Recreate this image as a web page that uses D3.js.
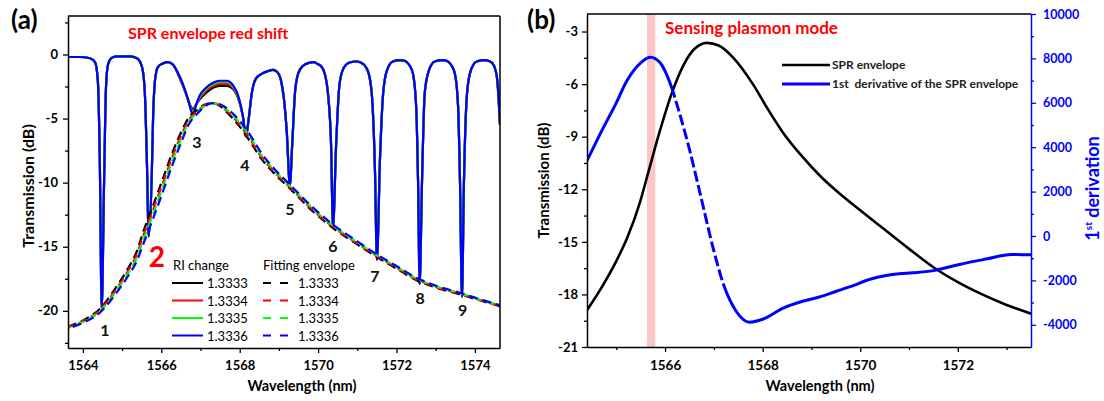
<!DOCTYPE html>
<html>
<head>
<meta charset="utf-8">
<script src="https://cdn.jsdelivr.net/npm/d3@7"></script>
<style>
  body { margin: 0; background: #fff; }
  svg { display: block; }
  text { font-family: Lato, 'Open Sans', sans-serif; }
</style>
</head>
<body>
<svg id="chart" width="1104" height="401"></svg>
<script>
// ---------- data : panel (a) ----------
const riLabels = ['1.3333', '1.3334', '1.3335', '1.3336'];
const seriesColors = ['#000000', '#ff0000', '#00ff00', '#0000ff'];

const transWl = [1563.62,1563.92,1564.18,1564.31,1564.38,1564.43,1564.48,1564.54,1564.59,1564.64,
  1564.74,1564.89,1565.2,1565.38,1565.51,1565.58,1565.63,1565.68,1565.76,1565.79,
  1565.84,1565.91,1566.04,1566.17,1566.3,1566.42,1566.55,1566.68,1566.76,1566.81,
  1566.88,1566.98,1567.14,1567.32,1567.49,1567.67,1567.83,1567.98,1568.08,1568.16,
  1568.23,1568.31,1568.41,1568.57,1568.72,1568.85,1568.95,1569.05,1569.13,1569.2,
  1569.28,1569.34,1569.41,1569.49,1569.61,1569.77,1569.89,1569.99,1570.07,1570.17,
  1570.25,1570.33,1570.38,1570.46,1570.54,1570.63,1570.79,1570.97,1571.1,1571.2,
  1571.3,1571.38,1571.45,1571.5,1571.58,1571.66,1571.76,1571.91,1572.09,1572.21,
  1572.32,1572.42,1572.5,1572.55,1572.59,1572.65,1572.72,1572.83,1572.98,1573.16,
  1573.28,1573.39,1573.49,1573.57,1573.62,1573.67,1573.72,1573.8,1573.9,1574.05,
  1574.23,1574.39,1574.49,1574.57,1574.64];

const trans3333 = [-0.2,-0.2,-0.3,-0.6,-2.0,-8,-19.8,-10,-2.5,-0.8,
  -0.25,-0.15,-0.15,-0.3,-1.0,-3,-8,-14.2,-9,-5,
  -2,-1.0,-0.7,-0.6,-0.8,-1.5,-2.45,-3.5,-4.1,-4.3,
  -3.95,-3.5,-3.0,-2.6,-2.45,-2.45,-2.7,-3.6,-4.8,-6.4,
  -5.0,-3,-1.9,-1.5,-1.3,-1.2,-1.35,-2,-3.5,-6,
  -10.2,-7,-3,-1.5,-0.9,-0.65,-0.6,-0.75,-0.9,-1.5,
  -3,-7,-13.5,-7,-2.5,-1.2,-0.65,-0.55,-0.65,-0.9,
  -1.6,-3.5,-9,-16,-8,-3,-1.2,-0.55,-0.45,-0.5,
  -0.8,-1.5,-4,-10,-17.9,-10,-3,-1.2,-0.55,-0.45,
  -0.5,-0.8,-1.5,-4,-10,-18.9,-10,-3,-1.2,-0.55,
  -0.45,-0.55,-0.9,-2,-5.5];
const trans3334 = [-0.2,-0.2,-0.3,-0.6,-2.0,-8,-19.8,-10,-2.5,-0.8,
  -0.25,-0.15,-0.15,-0.3,-1.0,-3,-8,-14.2,-9,-5,
  -2,-1.0,-0.7,-0.6,-0.8,-1.45,-2.4,-3.5,-4.2,-4.45,
  -3.95,-3.4,-2.85,-2.45,-2.3,-2.3,-2.6,-3.5,-4.8,-6.4,
  -5.0,-3,-1.9,-1.5,-1.3,-1.2,-1.35,-2,-3.5,-6,
  -10.2,-7,-3,-1.5,-0.9,-0.65,-0.6,-0.75,-0.9,-1.5,
  -3,-7,-13.5,-7,-2.5,-1.2,-0.65,-0.55,-0.65,-0.9,
  -1.6,-3.5,-9,-16,-8,-3,-1.2,-0.55,-0.45,-0.5,
  -0.8,-1.5,-4,-10,-17.9,-10,-3,-1.2,-0.55,-0.45,
  -0.5,-0.8,-1.5,-4,-10,-18.9,-10,-3,-1.2,-0.55,
  -0.45,-0.55,-0.9,-2,-5.5];
const trans3335 = [-0.2,-0.2,-0.3,-0.6,-2.0,-8,-19.8,-10,-2.5,-0.8,
  -0.25,-0.15,-0.15,-0.3,-1.0,-3,-8,-14.2,-9,-5,
  -2,-1.0,-0.7,-0.6,-0.8,-1.4,-2.35,-3.5,-4.3,-4.6,
  -4.0,-3.3,-2.7,-2.3,-2.15,-2.15,-2.5,-3.45,-4.8,-6.4,
  -5.0,-3,-1.9,-1.5,-1.3,-1.2,-1.35,-2,-3.5,-6,
  -10.2,-7,-3,-1.5,-0.9,-0.65,-0.6,-0.75,-0.9,-1.5,
  -3,-7,-13.5,-7,-2.5,-1.2,-0.65,-0.55,-0.65,-0.9,
  -1.6,-3.5,-9,-16,-8,-3,-1.2,-0.55,-0.45,-0.5,
  -0.8,-1.5,-4,-10,-17.9,-10,-3,-1.2,-0.55,-0.45,
  -0.5,-0.8,-1.5,-4,-10,-18.9,-10,-3,-1.2,-0.55,
  -0.45,-0.55,-0.9,-2,-5.5];
const trans3336 = [-0.2,-0.2,-0.3,-0.6,-2.0,-8,-19.8,-10,-2.5,-0.8,
  -0.25,-0.15,-0.15,-0.3,-1.0,-3,-8,-14.2,-9,-5,
  -2,-1.0,-0.7,-0.6,-0.8,-1.4,-2.3,-3.5,-4.4,-4.75,
  -4.0,-3.2,-2.6,-2.2,-2.05,-2.05,-2.4,-3.4,-4.8,-6.4,
  -5.0,-3,-1.9,-1.5,-1.3,-1.2,-1.35,-2,-3.5,-6,
  -10.2,-7,-3,-1.5,-0.9,-0.65,-0.6,-0.75,-0.9,-1.5,
  -3,-7,-13.5,-7,-2.5,-1.2,-0.65,-0.55,-0.65,-0.9,
  -1.6,-3.5,-9,-16,-8,-3,-1.2,-0.55,-0.45,-0.5,
  -0.8,-1.5,-4,-10,-17.9,-10,-3,-1.2,-0.55,-0.45,
  -0.5,-0.8,-1.5,-4,-10,-18.9,-10,-3,-1.2,-0.55,
  -0.45,-0.55,-0.9,-2,-5.5];

// fitted envelopes (dashed)
const envWl = [1563.62,1564.0,1564.43,1564.87,1565.15,1565.38,1565.53,1565.79,1566.04,1566.3,
  1566.53,1566.7,1566.91,1567.1,1567.3,1567.5,1567.67,1568.0,1568.26,1568.55,
  1568.85,1569.28,1569.87,1570.38,1571.0,1571.5,1572.0,1572.5,1573.0,1573.67,
  1574.2,1574.64];
const env3333 = [-21.23,-20.76,-19.85,-18.06,-16.7,-15.32,-13.92,-11.79,-9.69,-7.52,
  -5.91,-4.93,-4.35,-3.93,-3.8,-4.03,-4.5,-5.63,-6.76,-8.13,
  -9.18,-10.45,-12.25,-13.54,-14.82,-15.8,-16.7,-17.59,-18.18,-18.76,
  -19.25,-19.65];
const env3334 = [-21.28,-20.82,-19.95,-18.22,-16.9,-15.57,-14.24,-12.13,-10.03,-7.84,
  -6.17,-5.11,-4.45,-3.98,-3.8,-3.98,-4.4,-5.48,-6.59,-7.98,
  -9.06,-10.35,-12.15,-13.45,-14.74,-15.73,-16.63,-17.53,-18.13,-18.72,
  -19.22,-19.62];
const env3335 = [-21.33,-20.88,-20.05,-18.38,-17.1,-15.83,-14.56,-12.47,-10.37,-8.16,
  -6.43,-5.29,-4.55,-4.03,-3.8,-3.93,-4.3,-5.33,-6.42,-7.83,
  -8.94,-10.25,-12.05,-13.36,-14.66,-15.67,-16.57,-17.47,-18.08,-18.68,
  -19.19,-19.59];
const env3336 = [-21.38,-20.94,-20.15,-18.54,-17.3,-16.08,-14.88,-12.81,-10.71,-8.48,
  -6.69,-5.47,-4.65,-4.08,-3.8,-3.88,-4.2,-5.18,-6.25,-7.68,
  -8.82,-10.15,-11.95,-13.27,-14.58,-15.6,-16.5,-17.41,-18.03,-18.64,
  -19.16,-19.56];

const dipLabels = ['1', '2', '3', '4', '5', '6', '7', '8', '9'];
const dipLabelWl = [1564.56, 1565.89, 1566.91, 1568.13, 1569.28, 1570.38, 1571.45, 1572.6, 1573.69];
const dipLabelDb = [-22.0, -16.6, -7.3, -9.1, -12.5, -15.4, -17.75, -19.5, -20.4];

// ---------- data : panel (b) ----------
const sprWl = [1564.4,1564.7,1565.0,1565.22,1565.49,1565.65,1565.88,1566.14,1566.4,1566.6,
  1566.86,1567.1,1567.4,1567.8,1568.1,1568.4,1568.8,1569.2,1569.6,1570.0,
  1570.5,1571.0,1571.5,1572.0,1572.5,1573.0,1573.5];
const sprDb = [-18.9,-17.6,-16.1,-14.8,-12.7,-11.1,-8.8,-6.5,-4.8,-4.0,
  -3.65,-3.8,-4.5,-6.0,-7.4,-8.7,-10.1,-11.3,-12.3,-13.2,
  -14.3,-15.4,-16.45,-17.3,-18.0,-18.6,-19.1];

const derivWl = [1564.4,1564.67,1565.0,1565.22,1565.5,1565.7,1565.9,1566.1,1566.3,1566.5,
  1566.72,1566.98,1567.2,1567.46,1567.73,1568.0,1568.42,1568.8,1569.16,1569.5,
  1569.84,1570.2,1570.53,1570.8,1571.07,1571.5,1572.03,1572.58,1573.1,1573.5];
const derivVal = [3400,4600,6000,7000,7800,8050,7800,6900,5500,3900,
  1900,-500,-2200,-3400,-3880,-3750,-3250,-2950,-2750,-2500,
  -2250,-1950,-1780,-1700,-1660,-1560,-1280,-1040,-830,-850];
const derivDashFrom = 1566.2;
const derivDashTo = 1567.25;

const sensingBand = [1565.63, 1565.8];

// ---------- drawing ----------
const svg = d3.select('#chart');
const fmt = (d) => String(d);

function styleAxis(g, color, size) {
  g.select('.domain').attr('stroke', color).attr('stroke-width', 1.5);
  g.selectAll('.tick line').attr('stroke', color).attr('stroke-width', 1.3);
  g.selectAll('.tick text')
    .attr('fill', color)
    .style('font-family', 'Lato, sans-serif')
    .style('font-weight', 'bold')
    .style('font-size', size);
}

function minorAxis(g, axis, values, color) {
  g.call(axis.tickValues(values).tickFormat('').tickSize(3).tickSizeOuter(0));
  g.select('.domain').remove();
  g.selectAll('.tick line').attr('stroke', color).attr('stroke-width', 1.3);
}

// ===== panel (a) =====
const A = { left: 68, right: 500, top: 16, bottom: 348 };
const xa = d3.scaleLinear().domain([1563.62, 1574.64]).range([A.left, A.right]);
const ya = d3.scaleLinear().domain([-22.9, 3]).range([A.bottom, A.top]);

svg.append('clipPath').attr('id', 'clipA')
  .append('rect').attr('x', A.left).attr('y', A.top)
  .attr('width', A.right - A.left).attr('height', A.bottom - A.top);

const ga = svg.append('g');
const plotA = ga.append('g').attr('clip-path', 'url(#clipA)');

const lineA = d3.line()
  .x((d) => xa(d[0]))
  .y((d) => ya(d[1]))
  .curve(d3.curveMonotoneX);

const transSeries = [trans3333, trans3334, trans3335, trans3336];
const envSeries = [env3333, env3334, env3335, env3336];

transSeries.forEach((vals, i) => {
  plotA.append('path')
    .datum(transWl.map((w, j) => [w, vals[j]]))
    .attr('fill', 'none')
    .attr('stroke', seriesColors[i])
    .attr('stroke-width', 2.2)
    .attr('d', lineA);
});

envSeries.forEach((vals, i) => {
  plotA.append('path')
    .datum(envWl.map((w, j) => [w, vals[j]]))
    .attr('fill', 'none')
    .attr('stroke', seriesColors[i])
    .attr('stroke-width', 2.2)
    .attr('stroke-dasharray', '9,5')
    .attr('stroke-dashoffset', i * 3)
    .attr('d', lineA);
});

// axes (a)
ga.append('g')
  .attr('transform', `translate(${A.left},0)`)
  .call(d3.axisLeft(ya).tickValues([-20, -15, -10, -5, 0]).tickFormat(fmt).tickSize(5).tickPadding(5).tickSizeOuter(0))
  .call((g) => styleAxis(g, '#000', '13px'));
ga.append('g')
  .attr('transform', `translate(${A.left},0)`)
  .call((g) => minorAxis(g, d3.axisLeft(ya), [-22.5, -17.5, -12.5, -7.5, -2.5, 2.5], '#000'));

ga.append('g')
  .attr('transform', `translate(0,${A.bottom})`)
  .call(d3.axisBottom(xa).tickValues([1564, 1566, 1568, 1570, 1572, 1574]).tickFormat(fmt).tickSize(5).tickPadding(8).tickSizeOuter(0))
  .call((g) => styleAxis(g, '#000', '13px'));
ga.append('g')
  .attr('transform', `translate(0,${A.bottom})`)
  .call((g) => minorAxis(g, d3.axisBottom(xa), [1565, 1567, 1569, 1571, 1573], '#000'));

ga.append('line').attr('x1', A.left).attr('x2', A.right).attr('y1', A.top).attr('y2', A.top)
  .attr('stroke', '#000').attr('stroke-width', 1.5);
ga.append('line').attr('x1', A.right).attr('x2', A.right).attr('y1', A.top).attr('y2', A.bottom)
  .attr('stroke', '#000').attr('stroke-width', 1.5);

ga.append('text')
  .attr('transform', `translate(34,${(A.top + A.bottom) / 2 + 4}) rotate(-90)`)
  .attr('text-anchor', 'middle')
  .style('font-weight', 'bold')
  .style('font-size', '16px')
  .text('Transmission (dB)');

ga.append('text')
  .attr('x', (A.left + A.right) / 2 + 18)
  .attr('y', 391)
  .attr('text-anchor', 'middle')
  .style('font-weight', 'bold')
  .style('font-size', '14.5px')
  .text('Wavelength (nm)');

ga.append('text')
  .attr('x', 11).attr('y', 29)
  .style('font-weight', 'bold')
  .style('font-size', '26px')
  .text('(a)');

ga.append('text')
  .attr('x', 128).attr('y', 39)
  .attr('fill', '#ff0000')
  .style('font-weight', 'bold')
  .style('font-size', '16px')
  .text('SPR envelope red shift');

// dip numbers
dipLabels.forEach((t, i) => {
  const big = t === '2';
  ga.append('text')
    .attr('x', xa(dipLabelWl[i]))
    .attr('y', ya(dipLabelDb[i]))
    .attr('text-anchor', 'middle')
    .attr('fill', big ? '#ff0000' : '#111')
    .style('font-weight', 'bold')
    .style('font-size', big ? '28px' : '16px')
    .text(t);
});

// legend (a)
const legA = ga.append('g').style('font-family', "'Liberation Sans', Arial, sans-serif").style('font-size', '13px');
legA.append('text').attr('x', 173).attr('y', 270).text('RI change');
legA.append('text').attr('x', 263).attr('y', 270).text('Fitting envelope');
riLabels.forEach((lab, i) => {
  const yy = 283 + i * 17.5;
  legA.append('line').attr('x1', 172).attr('x2', 203).attr('y1', yy).attr('y2', yy)
    .attr('stroke', seriesColors[i]).attr('stroke-width', 2);
  legA.append('text').attr('x', 207).attr('y', yy + 5).text(lab);
  legA.append('line').attr('x1', 263).attr('x2', 291).attr('y1', yy).attr('y2', yy)
    .attr('stroke', seriesColors[i]).attr('stroke-width', 2).attr('stroke-dasharray', '8,9');
  legA.append('text').attr('x', 298).attr('y', yy + 5).text(lab);
});

// ===== panel (b) =====
const B = { left: 587, right: 1031, top: 14, bottom: 347 };
const xb = d3.scaleLinear().domain([1564.4, 1573.5]).range([B.left, B.right]);
const yb = d3.scaleLinear().domain([-21, -2]).range([B.bottom, B.top]);
const yd = d3.scaleLinear().domain([-5000, 10000]).range([B.bottom, B.top]);

svg.append('clipPath').attr('id', 'clipB')
  .append('rect').attr('x', B.left).attr('y', B.top)
  .attr('width', B.right - B.left).attr('height', B.bottom - B.top);

const gbb = svg.append('g');
const plotB = gbb.append('g').attr('clip-path', 'url(#clipB)');

plotB.append('rect')
  .attr('x', xb(sensingBand[0]))
  .attr('y', B.top)
  .attr('width', xb(sensingBand[1]) - xb(sensingBand[0]))
  .attr('height', B.bottom - B.top)
  .attr('fill', '#fbc6c6');

const lineSpr = d3.line().x((d) => xb(d[0])).y((d) => yb(d[1])).curve(d3.curveMonotoneX);
const lineDeriv = d3.line().x((d) => xb(d[0])).y((d) => yd(d[1])).curve(d3.curveMonotoneX);

plotB.append('path')
  .datum(sprWl.map((w, i) => [w, sprDb[i]]))
  .attr('fill', 'none')
  .attr('stroke', '#000')
  .attr('stroke-width', 2.6)
  .attr('d', lineSpr);

const derivPath = plotB.append('path')
  .datum(derivWl.map((w, i) => [w, derivVal[i]]))
  .attr('fill', 'none')
  .attr('stroke', '#0000ff')
  .attr('stroke-width', 3)
  .attr('d', lineDeriv);

// dashed stretch of the derivative curve
(function () {
  const node = derivPath.node();
  const total = node.getTotalLength();
  const lenAt = (px) => {
    let lo = 0, hi = total;
    for (let k = 0; k < 40; k++) {
      const mid = (lo + hi) / 2;
      if (node.getPointAtLength(mid).x < px) lo = mid; else hi = mid;
    }
    return lo;
  };
  const l1 = lenAt(xb(derivDashFrom));
  const l2 = lenAt(xb(derivDashTo));
  const arr = [l1, 3.5];
  let pos = l1 + 3.5;
  while (pos + 11 < l2) { arr.push(11, 3.5); pos += 14.5; }
  arr.push(total);
  derivPath.attr('stroke-dasharray', arr.join(','));
})();

// axes (b)
gbb.append('g')
  .attr('transform', `translate(${B.left},0)`)
  .call(d3.axisLeft(yb).tickValues([-21, -18, -15, -12, -9, -6, -3]).tickFormat(fmt).tickSize(5).tickPadding(4).tickSizeOuter(0))
  .call((g) => styleAxis(g, '#000', '13px'));
gbb.append('g')
  .attr('transform', `translate(${B.left},0)`)
  .call((g) => minorAxis(g, d3.axisLeft(yb), [-19.5, -16.5, -13.5, -10.5, -7.5, -4.5], '#000'));

gbb.append('g')
  .attr('transform', `translate(0,${B.bottom})`)
  .call(d3.axisBottom(xb).tickValues([1566, 1568, 1570, 1572]).tickFormat(fmt).tickSize(5).tickPadding(8).tickSizeOuter(0))
  .call((g) => styleAxis(g, '#000', '13.5px'));
gbb.append('g')
  .attr('transform', `translate(0,${B.bottom})`)
  .call((g) => minorAxis(g, d3.axisBottom(xb), [1565, 1567, 1569, 1571, 1573], '#000'));

gbb.append('g')
  .attr('transform', `translate(${B.right},0)`)
  .call(d3.axisRight(yd).tickValues([-4000, -2000, 0, 2000, 4000, 6000, 8000, 10000]).tickFormat(fmt).tickSize(5).tickPadding(7).tickSizeOuter(0))
  .call((g) => styleAxis(g, '#0000ff', '12.5px'));
gbb.append('g')
  .attr('transform', `translate(${B.right},0)`)
  .call((g) => minorAxis(g, d3.axisRight(yd), [-3000, -1000, 1000, 3000, 5000, 7000, 9000], '#0000ff'));

gbb.append('line').attr('x1', B.left).attr('x2', B.right).attr('y1', B.top).attr('y2', B.top)
  .attr('stroke', '#000').attr('stroke-width', 1.5);

gbb.append('text')
  .attr('transform', `translate(549,${(B.top + B.bottom) / 2}) rotate(-90)`)
  .attr('text-anchor', 'middle')
  .style('font-weight', 'bold')
  .style('font-size', '15px')
  .text('Transmission (dB)');

gbb.append('text')
  .attr('x', 820)
  .attr('y', 391)
  .attr('text-anchor', 'middle')
  .style('font-weight', 'bold')
  .style('font-size', '14.5px')
  .text('Wavelength (nm)');

const dl = gbb.append('text')
  .attr('transform', `translate(1099,${(B.top + B.bottom) / 2 + 8}) rotate(-90)`)
  .attr('text-anchor', 'middle')
  .attr('fill', '#0000ff')
  .style('font-weight', 'bold')
  .style('font-size', '18px');
dl.append('tspan').text('1');
dl.append('tspan').attr('dy', -7).style('font-size', '10px').text('st');
dl.append('tspan').attr('dy', 7).text(' derivation');

gbb.append('text')
  .attr('x', 527).attr('y', 29)
  .style('font-weight', 'bold')
  .style('font-size', '26px')
  .text('(b)');

gbb.append('text')
  .attr('x', 665).attr('y', 34)
  .attr('fill', '#ff0000')
  .style('font-weight', 'bold')
  .style('font-size', '17px')
  .text('Sensing plasmon mode');

// legend (b)
const legB = [
  { label: 'SPR envelope', color: '#000', width: 2.6 },
  { label: '1st  derivative of the SPR envelope', color: '#0000ff', width: 3 },
];
legB.forEach((d, i) => {
  const yy = 65 + i * 19;
  gbb.append('line').attr('x1', 782).attr('x2', 830).attr('y1', yy).attr('y2', yy)
    .attr('stroke', d.color).attr('stroke-width', d.width);
  gbb.append('text').attr('x', 832).attr('y', yy + 4)
    .attr('fill', '#222')
    .style('font-weight', 'bold')
    .style('font-size', '12px')
    .style('white-space', 'pre')
    .text(d.label);
});
</script>
</body>
</html>
